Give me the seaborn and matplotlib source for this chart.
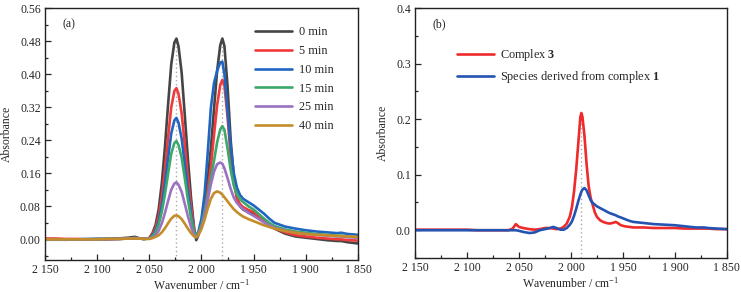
import numpy as np
import pandas as pd
import matplotlib
matplotlib.use("Agg")
import matplotlib.pyplot as plt
from matplotlib.ticker import MultipleLocator, FuncFormatter
import seaborn as sns

# ---------------- data: panel (a) ----------------
wn_a = [2150, 2140, 2130, 2120, 2110, 2100, 2090, 2080, 2070, 2064, 2060, 2055, 2050,
        2047, 2044, 2041, 2038, 2035, 2032, 2029, 2026, 2024, 2022, 2019, 2016, 2013,
        2010, 2007, 2005, 2003, 2000, 1997, 1994, 1991, 1988, 1985, 1982, 1980, 1978,
        1975, 1972, 1969, 1966, 1963, 1960, 1955, 1950, 1945, 1940, 1935, 1930, 1920,
        1910, 1900, 1890, 1880, 1870, 1866, 1860, 1850]

abs_0min = [0.000, 0.000, -0.001, 0.000, 0.000, 0.001, 0.001, 0.002, 0.004, 0.006, 0.003, 0.001, 0.003,
            0.015, 0.035, 0.073, 0.136, 0.224, 0.326, 0.423, 0.476, 0.486, 0.467, 0.403, 0.301, 0.194,
            0.100, 0.025, -0.002, 0.010, 0.040, 0.090, 0.145, 0.220, 0.315, 0.408, 0.470, 0.486, 0.468,
            0.370, 0.240, 0.150, 0.100, 0.080, 0.072, 0.066, 0.062, 0.052, 0.043, 0.034, 0.026, 0.014,
            0.007, 0.004, 0.001, -0.002, -0.004, -0.004, -0.007, -0.010]
abs_5min = [0.002, 0.002, 0.001, 0.001, 0.000, 0.000, 0.000, 0.001, 0.002, 0.003, 0.002, 0.001, 0.003,
            0.013, 0.028, 0.057, 0.104, 0.170, 0.247, 0.319, 0.359, 0.366, 0.352, 0.305, 0.229, 0.149,
            0.080, 0.025, 0.006, 0.012, 0.035, 0.072, 0.118, 0.176, 0.252, 0.325, 0.374, 0.386, 0.372,
            0.296, 0.200, 0.136, 0.100, 0.085, 0.078, 0.071, 0.066, 0.055, 0.045, 0.035, 0.027, 0.017,
            0.010, 0.007, 0.004, 0.002, 0.000, 0.000, -0.002, -0.003]
abs_10min = [0.000, 0.000, 0.000, 0.000, 0.001, 0.001, 0.001, 0.001, 0.002, 0.003, 0.002, 0.001, 0.002,
             0.009, 0.021, 0.044, 0.082, 0.135, 0.197, 0.256, 0.288, 0.294, 0.282, 0.244, 0.182, 0.118,
             0.062, 0.018, 0.008, 0.018, 0.050, 0.110, 0.210, 0.318, 0.378, 0.408, 0.428, 0.430, 0.400,
             0.310, 0.225, 0.160, 0.125, 0.107, 0.098, 0.090, 0.082, 0.072, 0.062, 0.050, 0.040, 0.031,
             0.026, 0.022, 0.019, 0.017, 0.015, 0.016, 0.013, 0.011]
abs_15min = [-0.001, -0.001, -0.001, 0.000, 0.000, 0.000, 0.001, 0.001, 0.002, 0.003, 0.002, 0.001, 0.002,
             0.007, 0.017, 0.036, 0.067, 0.109, 0.159, 0.207, 0.233, 0.238, 0.228, 0.198, 0.148, 0.096,
             0.052, 0.017, 0.007, 0.015, 0.035, 0.068, 0.105, 0.148, 0.190, 0.235, 0.266, 0.274, 0.265,
             0.220, 0.168, 0.130, 0.108, 0.097, 0.090, 0.080, 0.072, 0.061, 0.050, 0.040, 0.032, 0.024,
             0.019, 0.016, 0.013, 0.011, 0.009, 0.009, 0.007, 0.005]
abs_25min = [0.000, 0.000, 0.000, 0.000, 0.000, 0.000, 0.001, 0.001, 0.002, 0.003, 0.002, 0.001, 0.002,
             0.004, 0.010, 0.021, 0.039, 0.064, 0.093, 0.120, 0.135, 0.138, 0.132, 0.115, 0.086, 0.056,
             0.030, 0.010, 0.005, 0.012, 0.030, 0.058, 0.095, 0.133, 0.164, 0.182, 0.186, 0.183, 0.172,
             0.148, 0.122, 0.101, 0.088, 0.080, 0.073, 0.064, 0.057, 0.049, 0.041, 0.034, 0.028, 0.021,
             0.016, 0.013, 0.011, 0.009, 0.007, 0.007, 0.005, 0.004]
abs_40min = [0.000, 0.000, 0.000, 0.000, 0.000, 0.000, 0.001, 0.001, 0.002, 0.002, 0.002, 0.001, 0.001,
             0.003, 0.006, 0.010, 0.017, 0.027, 0.039, 0.050, 0.057, 0.058, 0.056, 0.049, 0.038, 0.026,
             0.015, 0.007, 0.005, 0.010, 0.025, 0.048, 0.075, 0.098, 0.112, 0.116, 0.113, 0.108, 0.102,
             0.092, 0.082, 0.073, 0.066, 0.060, 0.055, 0.049, 0.044, 0.039, 0.034, 0.030, 0.026, 0.020,
             0.016, 0.013, 0.011, 0.010, 0.008, 0.008, 0.007, 0.006]

times = ["0 min", "5 min", "10 min", "15 min", "25 min", "40 min"]
series_a = [abs_0min, abs_5min, abs_10min, abs_15min, abs_25min, abs_40min]
colors_a = ["#454545", "#ef3b3b", "#2066c0", "#3da86c", "#9b72c2", "#c48d2a"]

# ---------------- data: panel (b) ----------------
wn_b = [2150, 2140, 2130, 2120, 2110, 2100, 2090, 2080, 2070, 2060, 2056, 2053, 2050, 2046,
        2040, 2035, 2030, 2025, 2020, 2017, 2014, 2010, 2007, 2004, 2001, 1999, 1997, 1995,
        1993, 1991, 1990, 1989, 1987, 1985, 1983, 1981, 1979, 1977, 1975, 1972, 1969, 1966,
        1963, 1960, 1957, 1955, 1952, 1948, 1944, 1940, 1930, 1920, 1910, 1900, 1890, 1880,
        1872, 1868, 1860, 1850]
abs_complex3 = [0.001, 0.001, 0.001, 0.001, 0.001, 0.001, 0.000, 0.000, 0.000, 0.000, 0.003, 0.011, 0.006, 0.004,
                0.002, 0.001, 0.002, 0.004, 0.004, 0.003, 0.002, 0.003, 0.006, 0.012, 0.025, 0.042, 0.070, 0.108,
                0.155, 0.203, 0.211, 0.205, 0.170, 0.120, 0.080, 0.058, 0.045, 0.032, 0.024, 0.018, 0.015, 0.013,
                0.012, 0.013, 0.015, 0.013, 0.009, 0.007, 0.006, 0.005, 0.005, 0.004, 0.004, 0.004, 0.003, 0.003,
                0.003, 0.003, 0.002, 0.002]
abs_species1 = [0.000, 0.000, 0.000, 0.000, 0.000, 0.000, 0.000, 0.000, 0.000, 0.000, 0.000, 0.000, -0.001, -0.003,
                -0.005, -0.004, 0.000, 0.002, 0.004, 0.006, 0.004, 0.001, 0.001, 0.004, 0.010, 0.016, 0.026, 0.038,
                0.052, 0.064, 0.069, 0.073, 0.076, 0.072, 0.063, 0.054, 0.049, 0.046, 0.043, 0.040, 0.037, 0.034,
                0.031, 0.029, 0.027, 0.025, 0.023, 0.020, 0.017, 0.015, 0.013, 0.011, 0.010, 0.009, 0.007, 0.005,
                0.005, 0.004, 0.003, 0.002]
labels_b = [r"Complex $\mathbf{3}$", r"Species derived from complex $\mathbf{1}$"]
colors_b = ["#ee2a2a", "#2454b2"]

xticks = [2150, 2100, 2050, 2000, 1950, 1900, 1850]

# ---------------- style ----------------
sns.set_style("ticks")
plt.rcParams["font.family"] = ["Liberation Serif", "DejaVu Serif"]
plt.rcParams["mathtext.fontset"] = "custom"
plt.rcParams["mathtext.rm"] = "Liberation Serif"
plt.rcParams["mathtext.it"] = "Liberation Serif:italic"
plt.rcParams["mathtext.bf"] = "Liberation Serif:bold"
plt.rcParams["axes.linewidth"] = 1.0

fig = plt.figure(figsize=(7.41, 2.92), dpi=100)
ax1 = fig.add_axes([0.0607, 0.1096, 0.4224, 0.863])
ax2 = fig.add_axes([0.560, 0.1164, 0.421, 0.856])

FS = 8.5
LFS = 8.8
LW = 1.9

def style_axes(ax, ylim, ymaj, ymin, yfmt):
    ax.set_xlim(2150, 1850)
    ax.set_ylim(*ylim)
    ax.set_xticks(xticks)
    ax.xaxis.set_minor_locator(MultipleLocator(25))
    ax.xaxis.set_major_formatter(FuncFormatter(lambda v, p: f"{int(round(v))//1000} {int(round(v))%1000:03d}"))
    ax.yaxis.set_major_locator(MultipleLocator(ymaj))
    ax.yaxis.set_minor_locator(MultipleLocator(ymin))
    ax.yaxis.set_major_formatter(FuncFormatter(lambda v, p: format(v, yfmt)))
    ax.tick_params(which="both", direction="in", top=False, right=False, labelsize=FS, pad=3)
    ax.tick_params(which="major", length=4, width=0.9)
    ax.tick_params(which="minor", length=2.5, width=0.9)
    for s in ax.spines.values():
        s.set_visible(True)
        s.set_linewidth(1.0)
        s.set_color("#222222")
    ax.set_xlabel("Wavenumber / cm$^{-1}$", fontsize=FS, labelpad=1)
    ax.set_ylabel("Absorbance", fontsize=FS, labelpad=5)

# ---------------- panel (a) ----------------
df_a = pd.concat([pd.DataFrame({"wn": wn_a, "A": s, "time": t}) for s, t in zip(series_a, times)],
                 ignore_index=True)

w_arr = np.array(wn_a)
b_arr = np.array(abs_0min)
left_mask = w_arr > 2005
right_mask = w_arr <= 2005
peaks = [(w_arr[left_mask][np.argmax(b_arr[left_mask])], b_arr[left_mask].max()),
         (w_arr[right_mask][np.argmax(b_arr[right_mask])], b_arr[right_mask].max())]
for px, py in peaks:
    ax1.vlines(px, -0.05, py, colors="#aaaaaa", linestyles=(0, (1, 2)), lw=1.0, zorder=0)

sns.lineplot(data=df_a, x="wn", y="A", hue="time", hue_order=times, palette=colors_a,
             estimator=None, sort=False, lw=LW, ax=ax1)
h, l = ax1.get_legend_handles_labels()
ax1.legend(h, l, loc="upper left", bbox_to_anchor=(0.672, 0.927), frameon=False, fontsize=LFS,
           handlelength=3.0, handletextpad=0.6, labelspacing=0.55, borderpad=0, borderaxespad=0)
ax1.text(0.055, 0.935, "(a)", transform=ax1.transAxes, fontsize=FS, va="center")
style_axes(ax1, (-0.05, 0.56), 0.08, 0.04, ".2f")

# ---------------- panel (b) ----------------
df_b = pd.concat([pd.DataFrame({"wn": wn_b, "A": s, "sp": lab})
                  for s, lab in zip([abs_complex3, abs_species1], labels_b)], ignore_index=True)
wb = np.array(wn_b)
cb = np.array(abs_complex3)
ax2.vlines(wb[np.argmax(cb)], -0.05, cb.max(), colors="#aaaaaa", linestyles=(0, (1, 2)), lw=1.0, zorder=0)
sns.lineplot(data=df_b, x="wn", y="A", hue="sp", hue_order=labels_b, palette=colors_b,
             estimator=None, sort=False, lw=LW, ax=ax2)
h, l = ax2.get_legend_handles_labels()
ax2.legend(h, l, loc="upper left", bbox_to_anchor=(0.135, 0.845), frameon=False, fontsize=LFS,
           handlelength=3.0, handletextpad=0.5, labelspacing=0.5, borderpad=0, borderaxespad=0)
ax2.text(0.055, 0.935, "(b)", transform=ax2.transAxes, fontsize=FS, va="center")
style_axes(ax2, (-0.05, 0.4), 0.1, 0.05, ".1f")

fig.savefig("out.png", dpi=100)
